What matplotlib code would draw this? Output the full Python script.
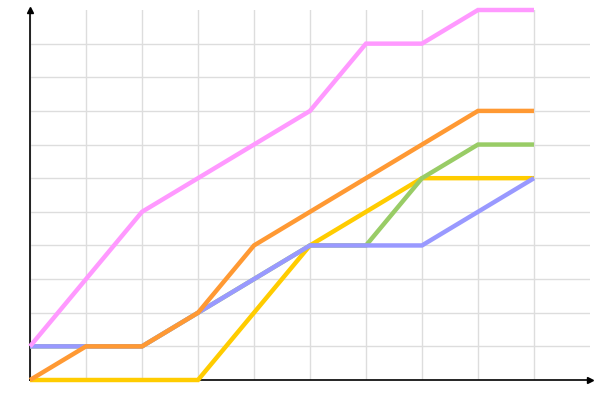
import numpy as np
import matplotlib
matplotlib.use("Agg")
import matplotlib.pyplot as plt

# data
x = np.arange(10)
yellow = [0, 0, 0, 0, 2, 4, 5, 6, 6, 6]
green = [1, 1, 1, 2, 3, 4, 4, 6, 7, 7]
blue = [1, 1, 1, 2, 3, 4, 4, 4, 5, 6]
orange = [0, 1, 1, 2, 4, 5, 6, 7, 8, 8]
pink = [1, 3, 5, 6, 7, 8, 10, 10, 11, 11]

series = [(yellow, "#ffcc00"), (green, "#99cc66"), (blue, "#9999ff"),
          (orange, "#ff9933"), (pink, "#ff99ff")]

fig = plt.figure(figsize=(6, 4), dpi=100)
ax = fig.add_axes([0.05, 0.05, 0.9333, 0.925])

# grid: vertical lines at each x, horizontal lines at 1..10
for xi in x:
    ax.plot([xi, xi], [0, 11], color="#dddddd", lw=1, zorder=0)
for yi in range(1, 11):
    ax.plot([0, 10], [yi, yi], color="#dddddd", lw=1, zorder=0)

for vals, col in series:
    ax.plot(x, vals, color=col, lw=3.2, solid_joinstyle="miter",
            solid_capstyle="butt", zorder=3, clip_on=False)

ax.set_xlim(0, 10)
ax.set_ylim(0, 11)
ax.set_xticks([])
ax.set_yticks([])
ax.spines["top"].set_visible(False)
ax.spines["right"].set_visible(False)
ax.spines["left"].set_linewidth(1.2)
ax.spines["bottom"].set_linewidth(1.2)

# axis arrows
ax.plot(1, 0, ">k", ms=4, transform=ax.transAxes, clip_on=False)
ax.plot(0, 1, "^k", ms=4, transform=ax.transAxes, clip_on=False)

plt.savefig("out.png", dpi=100)
